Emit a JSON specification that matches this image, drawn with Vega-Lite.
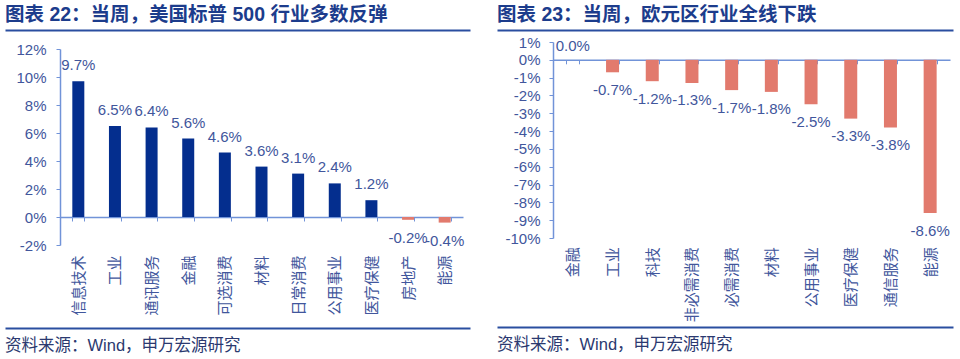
{
  "$schema": "https://vega.github.io/schema/vega-lite/v6.json",
  "datasets": {
    "sp": [
      {"name": "信息技术", "v": 0.097},
      {"name": "工业", "v": 0.065},
      {"name": "通讯服务", "v": 0.064},
      {"name": "金融", "v": 0.056},
      {"name": "可选消费", "v": 0.046},
      {"name": "材料", "v": 0.036},
      {"name": "日常消费", "v": 0.031},
      {"name": "公用事业", "v": 0.024},
      {"name": "医疗保健", "v": 0.012},
      {"name": "房地产", "v": -0.002},
      {"name": "能源", "v": -0.004}
    ],
    "eu": [
      {"name": "金融", "v": 0.0},
      {"name": "工业", "v": -0.007},
      {"name": "科技", "v": -0.012},
      {"name": "非必需消费", "v": -0.013},
      {"name": "必需消费", "v": -0.017},
      {"name": "材料", "v": -0.018},
      {"name": "公用事业", "v": -0.025},
      {"name": "医疗保健", "v": -0.033},
      {"name": "通信服务", "v": -0.038},
      {"name": "能源", "v": -0.086}
    ],
    "none": []
  },
  "config": {
    "view": {"stroke": null},
    "font": "Liberation Sans, Noto Sans CJK SC",
    "locale": {"number": {"decimal": ".", "thousands": ",", "grouping": [3], "currency": ["", ""], "minus": "-"}},
    "axis": {"grid": false, "domainColor": "#7193D8", "tickColor": "#7193D8", "labelColor": "#41569C", "labelFont": "Liberation Sans, Noto Sans CJK SC"}
  },
  "spacing": -28,
  "hconcat": [
    {
      "spacing": 12,
      "vconcat": [
        {
          "width": 410, "height": 1,
          "title": {"text": "图表 22：当周，美国标普 500 行业多数反弹", "anchor": "start", "dx": -55, "fontSize": 19.5, "fontWeight": "bold", "color": "#1C3C8C", "offset": 3.5, "font": "Liberation Sans, Noto Sans CJK SC"},
          "data": {"name": "none"},
          "mark": "point",
          "encoding": {"x": {"field": "v", "type": "quantitative", "scale": {"domain": [0, 1], "range": [-55, 410]}, "axis": {"title": null, "labels": false, "ticks": false, "domainColor": "#2A4EA0", "domainWidth": 2}}}
        },
        {
          "width": 403, "height": 196,
          "data": {"name": "sp"},
          "encoding": {
            "x": {"field": "name", "type": "nominal", "sort": null, "scale": {"paddingInner": 0.68, "paddingOuter": 0.34},
                  "axis": {"title": null, "labelAngle": -90, "offset": -28, "labelPadding": 34, "tickBand": "extent", "tickSize": 4, "labelFontSize": 15, "domainWidth": 1.5}},
            "y": {"field": "v", "type": "quantitative", "scale": {"domain": [-0.02, 0.12], "nice": false},
                  "axis": {"title": null, "format": ".0%", "values": [-0.02, 0, 0.02, 0.04, 0.06, 0.08, 0.1, 0.12], "labelFontSize": 15, "tickSize": 4, "labelPadding": 10, "labelOverlap": false, "domainWidth": 1.5}}
          },
          "layer": [
            {"mark": {"type": "bar", "size": 12}, "encoding": {"color": {"condition": {"test": "datum.v < 0", "value": "#E27A6D"}, "value": "#042E8E"}}},
            {"transform": [{"filter": "datum.v >= 0"}], "mark": {"type": "text", "dy": -11, "baseline": "alphabetic", "fontSize": 15, "color": "#41569C"}, "encoding": {"text": {"field": "v", "type": "quantitative", "format": ".1%"}}},
            {"transform": [{"filter": "datum.v < 0"}], "mark": {"type": "text", "dy": 23, "baseline": "alphabetic", "fontSize": 15, "color": "#41569C"}, "encoding": {"text": {"field": "v", "type": "quantitative", "format": ".1%"}}}
          ]
        },
        {
          "width": 410, "height": 1,
          "title": {"text": "资料来源：Wind，申万宏源研究", "orient": "bottom", "anchor": "start", "dx": -55, "fontSize": 16.5, "fontWeight": "normal", "color": "#2B3970", "offset": 9, "font": "Liberation Sans, Noto Sans CJK SC"},
          "data": {"name": "none"},
          "mark": "point",
          "encoding": {"x": {"field": "v", "type": "quantitative", "scale": {"domain": [0, 1], "range": [-55, 410]}, "axis": {"orient": "top", "title": null, "labels": false, "ticks": false, "domainColor": "#2A4EA0", "domainWidth": 2}}}
        }
      ]
    },
    {
      "spacing": 5,
      "vconcat": [
        {
          "width": 400, "height": 1,
          "title": {"text": "图表 23：当周，欧元区行业全线下跌", "anchor": "start", "dx": -56, "fontSize": 19.5, "fontWeight": "bold", "color": "#1C3C8C", "offset": 3.5, "font": "Liberation Sans, Noto Sans CJK SC"},
          "data": {"name": "none"},
          "mark": "point",
          "encoding": {"x": {"field": "v", "type": "quantitative", "scale": {"domain": [0, 1], "range": [-56, 400]}, "axis": {"title": null, "labels": false, "ticks": false, "domainColor": "#2A4EA0", "domainWidth": 2}}}
        },
        {
          "width": 397, "height": 196,
          "data": {"name": "eu"},
          "encoding": {
            "x": {"field": "name", "type": "nominal", "sort": null, "scale": {"paddingInner": 0.68, "paddingOuter": 0.34},
                  "axis": {"title": null, "labelAngle": -90, "offset": -178.18, "labelPadding": 183, "tickBand": "extent", "tickSize": 4, "labelFontSize": 15, "domainWidth": 1.5}},
            "y": {"field": "v", "type": "quantitative", "scale": {"domain": [-0.1, 0.01], "nice": false},
                  "axis": {"title": null, "format": ".0%", "values": [-0.1, -0.09, -0.08, -0.07, -0.06, -0.05, -0.04, -0.03, -0.02, -0.01, 0, 0.01], "labelFontSize": 15, "tickSize": 4, "labelPadding": 9, "labelOverlap": false, "domainWidth": 1.5}}
          },
          "layer": [
            {"mark": {"type": "bar", "size": 13}, "encoding": {"color": {"condition": {"test": "datum.v < 0", "value": "#E27A6D"}, "value": "#042E8E"}}},
            {"transform": [{"filter": "datum.v >= 0"}], "mark": {"type": "text", "dy": -9, "baseline": "alphabetic", "fontSize": 15, "color": "#41569C"}, "encoding": {"text": {"field": "v", "type": "quantitative", "format": ".1%"}}},
            {"transform": [{"filter": "datum.v < 0"}], "mark": {"type": "text", "dy": 22.5, "baseline": "alphabetic", "fontSize": 15, "color": "#41569C"}, "encoding": {"text": {"field": "v", "type": "quantitative", "format": ".1%"}}}
          ]
        },
        {
          "width": 400, "height": 1,
          "title": {"text": "资料来源：Wind，申万宏源研究", "orient": "bottom", "anchor": "start", "dx": -56, "fontSize": 16.5, "fontWeight": "normal", "color": "#2B3970", "offset": 9, "font": "Liberation Sans, Noto Sans CJK SC"},
          "data": {"name": "none"},
          "mark": "point",
          "encoding": {"x": {"field": "v", "type": "quantitative", "scale": {"domain": [0, 1], "range": [-56, 400]}, "axis": {"orient": "top", "title": null, "labels": false, "ticks": false, "domainColor": "#2A4EA0", "domainWidth": 2}}}
        }
      ]
    }
  ]
}
